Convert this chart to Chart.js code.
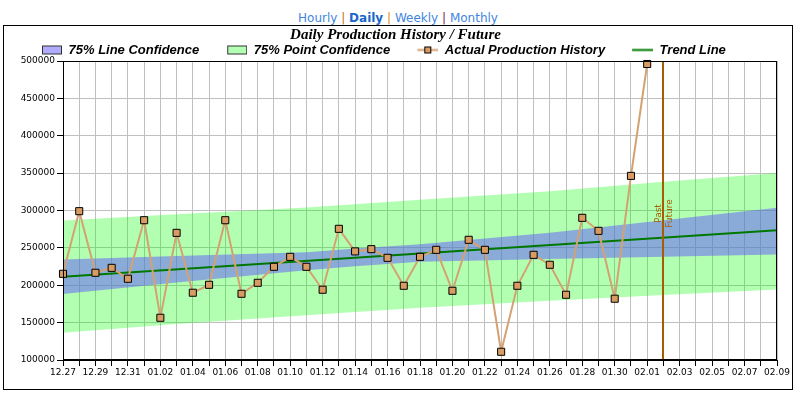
<!DOCTYPE html>
<html>
<head>
<meta charset="utf-8">
<script src="https://cdn.jsdelivr.net/npm/chart.js@4/dist/chart.umd.min.js"></script>
<style>
  html, body { margin: 0; padding: 0; background: #fff; width: 796px; height: 393px; overflow: hidden; }
  #nav { position: absolute; left: 0; top: 9px; width: 796px; text-align: center; font: 12px 'DejaVu Sans', Verdana, sans-serif; line-height: 18px; color: #3a7fdc; }
  #nav a { color: #3f86e0; text-decoration: none; }
  #nav a.cur { color: #1a66cc; font-weight: bold; }
  #box { position: absolute; left: 3px; top: 25px; width: 788px; height: 363px; border: 1px solid #000; }
  #c { display: block; }
</style>
</head>
<body>
<div id="nav"><a href="#">Hourly</a> <span style="color:#c07020">|</span> <a href="#" class="cur">Daily</a> <span style="color:#e09010">|</span> <a href="#">Weekly</a> <span style="color:#802050">|</span> <a href="#">Monthly</a></div>
<div id="box"><canvas id="c" width="788" height="363"></canvas></div>
<script>
// ---- data ----
const dayLabels = ['12.27','12.28','12.29','12.30','12.31',
  '01.01','01.02','01.03','01.04','01.05','01.06','01.07','01.08','01.09','01.10',
  '01.11','01.12','01.13','01.14','01.15','01.16','01.17','01.18','01.19','01.20',
  '01.21','01.22','01.23','01.24','01.25','01.26','01.27','01.28','01.29','01.30','01.31',
  '02.01','02.02','02.03','02.04','02.05','02.06','02.07','02.08','02.09'];

const actualProduction = [215300, 299100, 216700, 223300, 208700, 287000, 156500, 270100, 190000, 200600,
  287000, 188600, 203300, 224700, 238000, 224700, 194000, 275500, 245300, 248300,
  236700, 199300, 238000, 247400, 192600, 260800, 247400, 111000, 199300, 240700,
  227400, 187300, 290200, 272800, 182000, 346300, 496000];

const trendDays = ['12.27', '02.09'];
const trendValues = [211400, 273700];

const lineConfDays = ['12.27','01.03','01.11','01.14','01.18','01.26','02.02','02.09'];
const lineConfUpper = [234500, 239000, 244300, 249000, 255000, 270200, 287100, 303600];
const lineConfLower = [188200, 203800, 220000, 225500, 231400, 235000, 238100, 241300];

const pointConfDays = ['12.27','01.03','01.11','01.18','01.26','02.02','02.09'];
const pointConfUpper = [286700, 295100, 304000, 314500, 325900, 338300, 350300];
const pointConfLower = [136500, 148100, 160000, 170000, 179300, 186900, 194400];

const dividerDay = '02.02';
const yTicks = { min: 100000, max: 500000, step: 50000 };

const titleText = 'Daily Production History / Future';
const legendNames = ['75% Line Confidence', '75% Point Confidence', 'Actual Production History', 'Trend Line'];

// ---- styles ----
const tanLine = '#d4a272';
const tanMarker = '#d89c62';
const trendGreen = '#007800';
const blueBand = 'rgba(97,87,253,0.5)';
const greenBand = 'rgba(0,255,0,0.3)';
const dividerColor = '#a65c00';
const ICON_W = 46;

const pts = (days, vals) => days.map((d, i) => ({ x: d, y: vals[i] }));

// legend icons
function makeIcon(kind) {
  const c = document.createElement('canvas');
  c.width = ICON_W; c.height = 13;
  const g = c.getContext('2d');
  const o = ICON_W - 20;
  if (kind === 0 || kind === 1) {
    g.fillStyle = kind === 0 ? 'rgb(176,171,254)' : 'rgb(179,255,179)';
    g.fillRect(o, 2, 20, 9);
    g.strokeStyle = '#333';
    g.lineWidth = 1;
    g.strokeRect(o + 0.5, 2.5, 19, 8);
  } else if (kind === 2) {
    g.strokeStyle = tanLine; g.lineWidth = 2;
    g.beginPath(); g.moveTo(o - 1, 6.5); g.lineTo(ICON_W, 6.5); g.stroke();
    g.fillStyle = tanMarker; g.fillRect(o + 6, 3, 7, 7);
    g.strokeStyle = '#000'; g.lineWidth = 1; g.strokeRect(o + 6.5, 3.5, 6, 6);
  } else {
    g.strokeStyle = trendGreen; g.lineWidth = 2;
    g.beginPath(); g.moveTo(o - 1, 6.5); g.lineTo(ICON_W, 6.5); g.stroke();
  }
  return c;
}
const icons = [0, 1, 2, 3].map(makeIcon);

const framePlugin = {
  id: 'frameAndDivider',
  afterDatasetsDraw(chart) {
    const { ctx, chartArea: a, scales } = chart;
    const x = scales.x;
    ctx.save();
    const px = Math.round(x.getPixelForValue(dayLabels.indexOf(dividerDay)));
    ctx.strokeStyle = dividerColor;
    ctx.lineWidth = 2;
    ctx.beginPath(); ctx.moveTo(px, a.top); ctx.lineTo(px, a.bottom); ctx.stroke();
    ctx.strokeStyle = '#000';
    ctx.lineWidth = 1;
    ctx.strokeRect(Math.round(a.left) + 0.5, Math.round(a.top) + 0.5, Math.round(a.right - a.left) - 1, Math.round(a.bottom - a.top) - 1);
    const cy = (a.top + a.bottom) / 2 + 3;
    ctx.fillStyle = dividerColor;
    ctx.font = "9px 'DejaVu Sans'";
    ctx.textAlign = 'center';
    ctx.save();
    ctx.translate(px - 2, cy); ctx.rotate(-Math.PI / 2);
    ctx.textBaseline = 'alphabetic';
    ctx.fillText('Past', 0, 0);
    ctx.restore();
    ctx.save();
    ctx.translate(px + 2, cy); ctx.rotate(-Math.PI / 2);
    ctx.textBaseline = 'top';
    ctx.fillText('Future', 0, 0);
    ctx.restore();
    ctx.restore();
  }
};

const tickFont = { family: "'DejaVu Sans'", size: 9 };

new Chart(document.getElementById('c'), {
  type: 'line',
  data: {
    labels: dayLabels,
    datasets: [
      { label: legendNames[2], data: actualProduction, borderColor: tanLine, borderWidth: 2,
        pointStyle: 'rect', pointRadius: 5, pointBackgroundColor: tanMarker, pointBorderColor: '#000',
        pointBorderWidth: 1, tension: 0, fill: false, clip: false },
      { label: legendNames[3], data: pts(trendDays, trendValues), borderColor: trendGreen, borderWidth: 2,
        pointRadius: 0, fill: false },
      { label: legendNames[0], data: pts(lineConfDays, lineConfUpper), borderColor: 'transparent', borderWidth: 0,
        pointRadius: 0, fill: '+1', backgroundColor: blueBand },
      { label: 'lineConfLower', data: pts(lineConfDays, lineConfLower), borderColor: 'transparent', borderWidth: 0,
        pointRadius: 0, fill: false },
      { label: legendNames[1], data: pts(pointConfDays, pointConfUpper), borderColor: 'transparent', borderWidth: 0,
        pointRadius: 0, fill: '+1', backgroundColor: greenBand },
      { label: 'pointConfLower', data: pts(pointConfDays, pointConfLower), borderColor: 'transparent', borderWidth: 0,
        pointRadius: 0, fill: false }
    ]
  },
  options: {
    responsive: false,
    animation: false,
    devicePixelRatio: 1,
    layout: { padding: { left: 10, right: 15, top: 0, bottom: 0 } },
    plugins: {
      title: {
        display: true, text: titleText, color: '#000',
        font: { family: "'Liberation Serif'", size: 15, style: 'italic', weight: 'bold' },
        padding: { top: 0, bottom: -2.5 }
      },
      legend: {
        display: true, align: 'start', maxHeight: 19.5,
        labels: {
          usePointStyle: true, pointStyleWidth: ICON_W, padding: 2, color: '#000',
          font: { family: "'Liberation Sans'", size: 13, style: 'italic', weight: 'bold' },
          generateLabels: () => legendNames.map((t, i) => ({
            text: t, pointStyle: icons[i], fillStyle: 'transparent', strokeStyle: 'transparent',
            lineWidth: 0, hidden: false, datasetIndex: 0, fontColor: '#000'
          }))
        },
        onClick: () => {}
      },
      tooltip: { enabled: false }
    },
    scales: {
      x: {
        type: 'category',
        afterFit: s => { s.height = 29; },
        grid: { color: '#c0c0c0', lineWidth: 1, tickColor: '#000', tickLength: 6, drawTicks: true },
        border: { color: '#000', width: 1 },
        ticks: {
          autoSkip: false, maxRotation: 0, minRotation: 0, padding: 1, color: '#000', font: tickFont,
          callback: function (v, i) { return i % 2 === 0 ? this.getLabelForValue(v) : ''; }
        }
      },
      y: {
        min: yTicks.min, max: yTicks.max,
        afterFit: s => { s.width = 49; },
        grid: { color: '#c0c0c0', lineWidth: 1, tickColor: '#000', tickLength: 6 },
        border: { color: '#000', width: 1 },
        ticks: { stepSize: yTicks.step, padding: 2, color: '#000', font: tickFont, callback: v => String(v) }
      }
    }
  },
  plugins: [framePlugin]
});
</script>
</body>
</html>
